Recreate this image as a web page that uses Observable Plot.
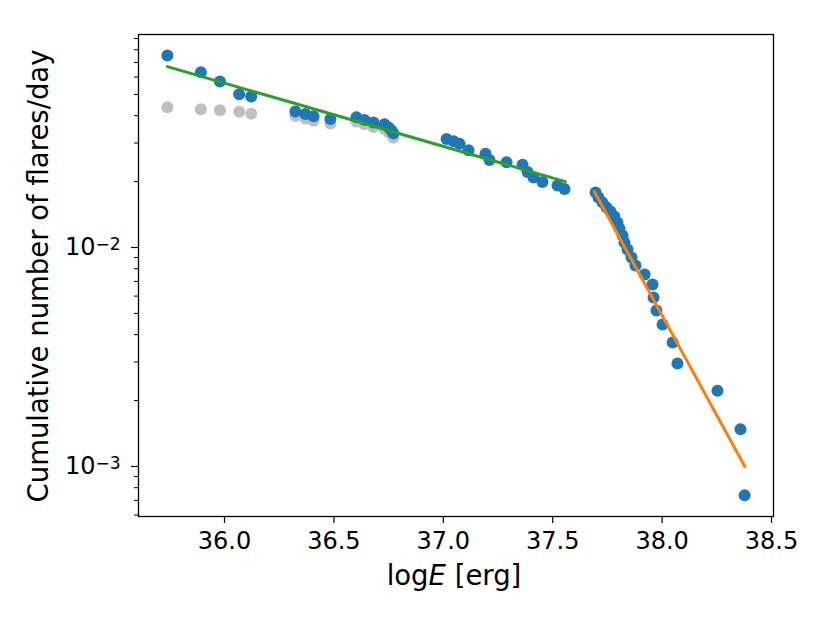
<!DOCTYPE html>
<html>
<head>
<meta charset="utf-8">
<script src="https://cdn.jsdelivr.net/npm/d3@7"></script>
<script src="https://cdn.jsdelivr.net/npm/@observablehq/plot@0.6"></script>
<style>
  html, body { margin: 0; padding: 0; background: white; }
  svg { display: block; }
</style>
</head>
<body>
<div id="chart"></div>
<script>
// Blue: corrected cumulative flare frequency
const blueX = [35.739, 35.892, 35.979, 36.067, 36.122,
  36.324, 36.370, 36.407, 36.484, 36.603, 36.640, 36.681, 36.731, 36.750, 36.763, 36.772,
  37.015, 37.047, 37.074, 37.115, 37.193, 37.211, 37.289, 37.362, 37.385, 37.412, 37.453, 37.522, 37.554,
  37.696, 37.709, 37.728, 37.746, 37.764, 37.782, 37.796, 37.805, 37.819, 37.828, 37.842, 37.860, 37.878,
  37.920, 37.956, 37.961, 37.974, 38.002, 38.048, 38.070, 38.253, 38.358, 38.377];
const blueY = [0.0753, 0.0632, 0.0573, 0.0501, 0.0489,
  0.0418, 0.0407, 0.0397, 0.0386, 0.0393, 0.0382, 0.0372, 0.0365, 0.0353, 0.0342, 0.0332,
  0.0313, 0.0306, 0.0298, 0.0278, 0.0268, 0.0251, 0.0245, 0.0239, 0.0221, 0.0209, 0.0199, 0.0192, 0.0185,
  0.01782, 0.01690, 0.01603, 0.01523, 0.01460, 0.01386, 0.01301, 0.01222, 0.01135, 0.01054, 0.00979, 0.00900, 0.00827,
  0.00753, 0.00678, 0.00591, 0.00516, 0.00445, 0.00368, 0.00295, 0.00222, 0.00148, 0.000738];

// Gray: uncorrected values (visible only at low energy)
const grayX = [35.739, 35.892, 35.979, 36.067, 36.122,
  36.324, 36.370, 36.407, 36.484, 36.603, 36.640, 36.681, 36.731, 36.750, 36.763, 36.772];
const grayY = [0.0437, 0.0428, 0.0423, 0.0417, 0.0408,
  0.0399, 0.0388, 0.0379, 0.0368, 0.0375, 0.0365, 0.0355, 0.0348, 0.0337, 0.0327, 0.0317];

// Power-law fits
const greenX = [35.739, 37.558];
const greenY = [0.0670, 0.0200];
const orangeX = [37.690, 38.378];
const orangeY = [0.0180, 0.00100];

// Ticks
const xTicks = [36.0, 36.5, 37.0, 37.5, 38.0, 38.5];
const yMajor = [1e-3, 1e-2];
const yMajorLabels = ["−3", "−2"];
const yMinor = [6e-4, 7e-4, 8e-4, 9e-4, 2e-3, 3e-3, 4e-3, 5e-3, 6e-3, 7e-3, 8e-3, 9e-3,
  2e-2, 3e-2, 4e-2, 5e-2, 6e-2, 7e-2, 8e-2, 9e-2];

const blue = blueX.map((x, i) => ({x, y: blueY[i]}));
const gray = grayX.map((x, i) => ({x, y: grayY[i]}));
const green = greenX.map((x, i) => ({x, y: greenY[i]}));
const orange = orangeX.map((x, i) => ({x, y: orangeY[i]}));

const font = "DejaVu Sans";
const tickFont = 24;
const labelFont = 27.5;

const svg = Plot.plot({
  width: 830,
  height: 623,
  marginLeft: 138,
  marginRight: 57,
  marginTop: 34,
  marginBottom: 107,
  style: {fontFamily: font, fontSize: tickFont + "px", color: "black", background: "white"},
  x: {domain: [35.607, 38.509]},
  y: {type: "log", domain: [5.91e-4, 0.0939]},
  marks: [
    Plot.axisX(xTicks, {tickSize: 7, tickPadding: 8, tickFormat: d3.format(".1f"), label: null, strokeWidth: 1.2, fontSize: tickFont}),
    Plot.axisY(yMajor, {tickSize: 7, tickPadding: 11, tickFormat: d => "10" + yMajorLabels[yMajor.indexOf(d)], label: null, strokeWidth: 1.2, fontSize: tickFont}),
    Plot.axisY(yMinor, {tickSize: 4, tickFormat: () => "", label: null, strokeWidth: 1}),
    Plot.dot(gray, {x: "x", y: "y", r: 6, fill: "#bfbfbf", stroke: "none"}),
    Plot.dot(blue, {x: "x", y: "y", r: 6, fill: "#1f77b4", stroke: "none"}),
    Plot.line(green, {x: "x", y: "y", stroke: "#2ca02c", strokeWidth: 3}),
    Plot.line(orange, {x: "x", y: "y", stroke: "#ff7f0e", strokeWidth: 3}),
    Plot.frame({stroke: "black", strokeWidth: 1.3})
  ]
});

// Superscript formatting of y tick labels
d3.select(svg).selectAll("g[aria-label='y-axis tick label'] text").each(function() {
  const t = d3.select(this);
  const s = t.text();
  if (!s.startsWith("10")) return;
  const exp = s.slice(2);
  t.text("");
  t.append("tspan").text("10");
  t.append("tspan").attr("dy", "-0.3em").attr("font-size", "17px").text(exp);
});

const sel = d3.select(svg);
// x label: log E [erg]
const xl = sel.append("text")
  .attr("x", 454).attr("y", 585)
  .attr("text-anchor", "middle")
  .attr("font-family", font).attr("font-size", labelFont + "px").attr("fill", "black");
xl.append("tspan").text("log");
xl.append("tspan").attr("font-style", "italic").text("E");
xl.append("tspan").text(" [erg]");

// y label
sel.append("text")
  .attr("transform", "translate(48,276) rotate(-90)")
  .attr("text-anchor", "middle")
  .attr("font-family", font).attr("font-size", labelFont + "px").attr("fill", "black")
  .text("Cumulative number of flares/day");

document.getElementById("chart").appendChild(svg);
</script>
</body>
</html>
